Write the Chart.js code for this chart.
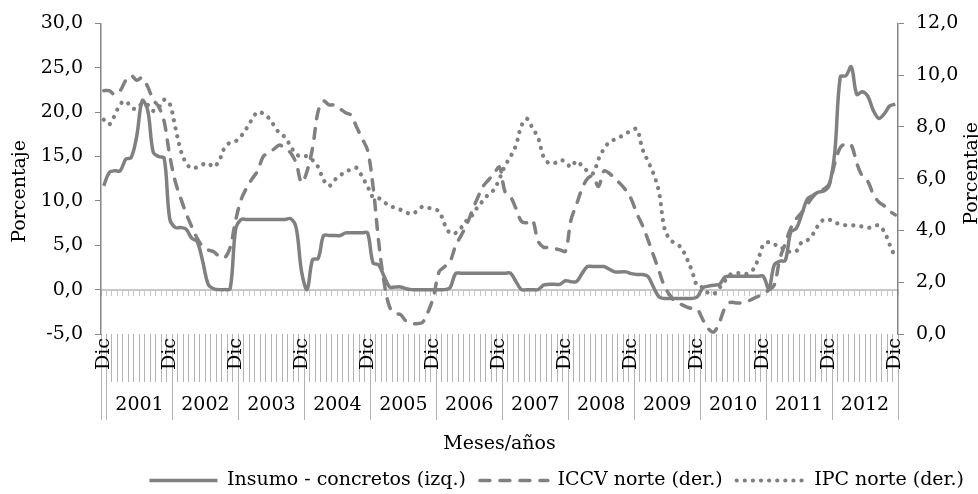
<!DOCTYPE html>
<html>
<head>
<meta charset="utf-8">
<script src="https://cdn.jsdelivr.net/npm/chart.js@4"></script>
<style>
  body { margin: 0; background: #fff; }
</style>
</head>
<body>
<canvas id="myChart" width="978" height="494"></canvas>
<script>
// categorias: Dic 2000 y luego los 12 meses de cada año
const meses = ['Ene','Feb','Mar','Abr','May','Jun','Jul','Ago','Sep','Oct','Nov','Dic'];
const years = ['2001','2002','2003','2004','2005','2006','2007','2008','2009','2010','2011','2012'];
const labels = ['Dic'];
years.forEach(() => meses.forEach(m => labels.push(m)));

// Insumo - concretos (eje izquierdo)
const insumo = [11.7,
  13.2, 13.4, 13.4, 14.7, 14.9, 17.3, 21.3, 20.2, 15.5, 15.0, 14.8, 8.0,
  7.0, 7.0, 6.8, 5.8, 5.4, 3.2, 0.6, 0.1, 0.0, 0.0, 0.1, 6.8,
  7.9, 7.9, 7.9, 7.9, 7.9, 7.9, 7.9, 7.9, 7.9, 8.0, 7.0, 2.0,
  0.0, 3.4, 3.5, 6.1, 6.1, 6.1, 6.1, 6.4, 6.4, 6.4, 6.4, 6.4,
  3.0, 2.8, 1.5, 0.3, 0.3, 0.3, 0.1, 0.0, 0.0, 0.0, 0.0, 0.0,
  0.0, 0.0, 0.2, 1.8, 1.85, 1.85, 1.85, 1.85, 1.85, 1.85, 1.85, 1.85,
  1.85, 1.85, 0.9, 0.0, 0.0, 0.0, 0.0, 0.5, 0.6, 0.6, 0.6, 1.0,
  0.9, 0.9, 1.8, 2.6, 2.6, 2.6, 2.6, 2.3, 2.0, 2.0, 2.0, 1.8,
  1.7, 1.7, 1.5, 0.3, -0.8, -1.0, -1.0, -1.0, -1.0, -1.0, -1.0, -0.8,
  0.2, 0.4, 0.5, 0.6, 1.4, 1.5, 1.5, 1.5, 1.5, 1.5, 1.5, 1.5,
  0.1, 2.8, 3.2, 3.3, 6.5, 6.9, 8.5, 10.2, 10.6, 11.0, 11.1, 11.8,
  15.5, 24.0, 24.1, 25.1, 22.0, 22.3, 21.8, 20.2, 19.3, 19.8, 20.7, 20.9];

// ICCV norte (eje derecho)
const iccv = [9.40,
  9.40, 9.25, 9.40, 9.80, 9.98, 9.80, 9.90, 9.55, 9.05, 8.78, 8.20, 6.90,
  5.90, 5.25, 4.65, 4.15, 3.70, 3.38, 3.25, 3.18, 3.00, 2.95, 3.35, 4.40,
  5.20, 5.65, 6.00, 6.30, 6.85, 7.00, 7.15, 7.30, 7.15, 7.00, 6.60, 5.85,
  6.30, 7.20, 8.60, 9.00, 8.85, 8.85, 8.70, 8.55, 8.45, 8.00, 7.55, 7.10,
  5.70, 3.60, 2.00, 1.05, 0.80, 0.75, 0.50, 0.42, 0.40, 0.45, 0.85, 1.45,
  2.40, 2.60, 2.80, 3.40, 3.80, 4.20, 4.75, 5.25, 5.70, 5.95, 6.20, 6.45,
  5.50, 5.30, 4.85, 4.35, 4.30, 4.40, 3.60, 3.35, 3.35, 3.30, 3.25, 3.20,
  4.40, 5.00, 5.60, 6.00, 6.10, 5.70, 6.30, 6.20, 6.00, 5.80, 5.55, 5.20,
  4.65, 4.20, 3.65, 3.05, 2.45, 1.85, 1.50, 1.25, 1.15, 1.05, 0.98, 0.95,
  0.55, 0.20, 0.08, 0.45, 1.00, 1.22, 1.20, 1.20, 1.25, 1.35, 1.45, 1.55,
  1.70, 1.90, 2.90, 3.50, 4.10, 4.45, 4.70, 5.00, 5.30, 5.50, 5.60, 5.80,
  6.60, 7.20, 7.35, 7.30, 6.60, 6.10, 5.90, 5.40, 5.10, 4.95, 4.75, 4.60];

// IPC norte (eje derecho)
const ipc = [8.28,
  8.10, 8.45, 8.88, 9.00, 8.75, 8.70, 8.90, 8.85, 8.62, 8.75, 9.05, 8.90,
  8.00, 7.10, 6.60, 6.40, 6.45, 6.55, 6.60, 6.45, 6.70, 7.20, 7.40, 7.45,
  7.65, 7.95, 8.30, 8.58, 8.52, 8.35, 8.05, 7.75, 7.60, 7.25, 6.95, 6.85,
  6.87, 6.72, 6.45, 5.95, 5.72, 5.95, 6.12, 6.28, 6.35, 6.42, 6.08, 5.70,
  5.28, 5.25, 5.10, 4.95, 4.88, 4.80, 4.70, 4.63, 4.75, 4.92, 4.88, 4.82,
  4.74, 4.25, 3.90, 3.90, 4.10, 4.38, 4.58, 4.90, 5.15, 5.40, 5.58, 6.00,
  6.50, 6.85, 7.30, 8.05, 8.32, 7.95, 7.60, 6.85, 6.60, 6.60, 6.72, 6.65,
  6.45, 6.68, 6.50, 6.30, 6.20, 6.75, 7.15, 7.42, 7.52, 7.62, 7.75, 7.85,
  7.92, 7.15, 6.68, 6.20, 5.50, 4.10, 3.65, 3.50, 3.35, 2.95, 2.45, 1.85,
  1.80, 1.58, 1.55, 1.78, 2.05, 2.30, 2.35, 2.35, 2.33, 2.45, 2.85, 3.45,
  3.55, 3.45, 3.42, 3.20, 3.18, 3.20, 3.55, 3.62, 3.85, 4.20, 4.42, 4.42,
  4.30, 4.25, 4.20, 4.20, 4.18, 4.15, 4.10, 4.15, 4.20, 3.95, 3.45, 2.95];

const gris = '#808080';
const fuente = 'DejaVu Serif';
Chart.defaults.font.family = fuente;
Chart.defaults.font.size = 19;
Chart.defaults.color = '#000';

const coma = v => v.toFixed(1).replace('.', ',');

// fila de años + titulos de ejes verticales
const extras = {
  id: 'extras',
  afterDraw(chart) {
    const ctx = chart.ctx;
    const x = chart.scales.x;
    const area = chart.chartArea;
    const step = x.getPixelForValue(1) - x.getPixelForValue(0);
    const top = x.top + 48, bottom = x.top + 86;
    ctx.save();
    ctx.strokeStyle = '#b3b3b3';
    ctx.lineWidth = 1;
    const edges = [0];
    years.forEach((y, k) => edges.push(1 + 12 * k));
    edges.push(labels.length);
    edges.forEach(i => {
      const px = Math.round(x.getPixelForValue(i) - step / 2) + 0.5;
      ctx.beginPath();
      ctx.moveTo(px, top);
      ctx.lineTo(px, bottom);
      ctx.stroke();
    });
    ctx.fillStyle = '#000';
    ctx.font = '19px ' + fuente;
    ctx.textAlign = 'center';
    ctx.textBaseline = 'middle';
    years.forEach((y, k) => {
      const a = x.getPixelForValue(1 + 12 * k) - step / 2;
      ctx.fillText(y, a + 6 * step, top + 23);
    });
    // titulos verticales
    ctx.save();
    ctx.translate(20, area.top + 168);
    ctx.rotate(-Math.PI / 2);
    ctx.fillText('Porcentaje', 0, 0);
    ctx.restore();
    ctx.translate(972, area.top + 150);
    ctx.rotate(-Math.PI / 2);
    ctx.fillText('Porcentaje', 0, 0);
    ctx.restore();
  }
};

new Chart(document.getElementById('myChart'), {
  type: 'line',
  data: {
    labels: labels,
    datasets: [{
      label: 'Insumo - concretos (izq.)',
      data: insumo,
      yAxisID: 'y',
      borderColor: gris,
      borderWidth: 3.5,
      pointRadius: 0,
      tension: 0.35
    }, {
      label: 'ICCV norte (der.)',
      data: iccv,
      yAxisID: 'y1',
      borderColor: gris,
      borderWidth: 3.5,
      borderDash: [10, 10],
      borderCapStyle: 'round',
      pointRadius: 0,
      tension: 0.35
    }, {
      label: 'IPC norte (der.)',
      data: ipc,
      yAxisID: 'y1',
      borderColor: gris,
      borderWidth: 4.2,
      borderDash: [0.1, 8],
      borderCapStyle: 'round',
      pointRadius: 0,
      tension: 0.35
    }]
  },
  options: {
    responsive: false,
    animation: false,
    devicePixelRatio: 1,
    layout: { padding: { top: 23, left: 0, right: 0, bottom: -6 } },
    plugins: {
      tooltip: { enabled: false },
      legend: {
        position: 'bottom',
        align: 'end',
        labels: {
          usePointStyle: true,
          pointStyle: 'line',
          pointStyleWidth: 68,
          boxHeight: 10,
          padding: 14,
          font: { size: 19 },
          generateLabels: chart => Chart.defaults.plugins.legend.labels.generateLabels(chart).map(item => {
            const ds = chart.data.datasets[item.datasetIndex];
            item.lineDash = ds.borderDash || [];
            item.lineCap = ds.borderCapStyle || 'butt';
            item.lineWidth = ds.borderWidth;
            item.strokeStyle = ds.borderColor;
            return item;
          })
        }
      }
    },
    scales: {
      x: {
        offset: true,
        grid: { offset: true, drawOnChartArea: false, tickLength: 48, color: '#b3b3b3' },
        border: { display: false },
        ticks: {
          autoSkip: false, minRotation: 90, maxRotation: 90, padding: -44,
          callback: (v, i) => labels[i] === 'Dic' ? 'Dic' : ''
        },
        title: { display: true, text: 'Meses/años', padding: { top: 0, bottom: 2 } },
        afterFit: s => { s.height = 123; }
      },
      x0: {
        type: 'category',
        position: { y: 0 },
        offset: true,
        grid: { offset: true, drawOnChartArea: false, tickLength: 5, color: '#c8c8c8' },
        border: { display: true, color: '#c8c8c8', width: 2 },
        ticks: { display: false }
      },
      y: {
        position: 'left',
        min: -5, max: 30,
        grid: { drawOnChartArea: false, tickLength: 6, color: '#868686' },
        border: { color: '#868686', width: 1.5 },
        ticks: { stepSize: 5, padding: 12, callback: coma },
        afterFit: s => { s.width = 101; }
      },
      y1: {
        position: 'right',
        min: 0, max: 12,
        grid: { drawOnChartArea: false, tickLength: 6, color: '#868686' },
        border: { color: '#868686', width: 1.5 },
        ticks: { stepSize: 2, padding: 12, callback: coma },
        afterFit: s => { s.width = 80; }
      }
    }
  },
  plugins: [extras]
});
</script>
</body>
</html>
